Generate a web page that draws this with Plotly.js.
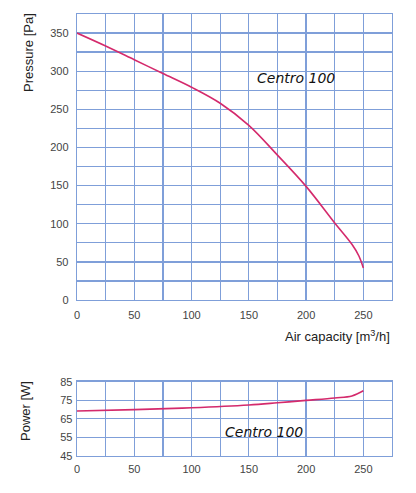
<!DOCTYPE html>
<html><head><meta charset="utf-8">
<script src="https://cdn.plot.ly/plotly-3.0.1.min.js"></script>
<style>html,body{margin:0;padding:0;background:#fff}#c{width:416px;height:493px}</style>
</head><body><div id="c"></div>
<script>
var flowP = [0, 25, 50, 75, 100, 125, 150, 175, 200, 225, 240, 246, 250];
var pressure = [350, 333, 315, 297, 279, 258, 229, 190, 149, 101, 73, 58, 42];
var flowW = [0, 50, 100, 150, 175, 200, 225, 240, 250];
var power = [69.2, 69.9, 70.9, 72.4, 73.6, 74.9, 76.2, 77.3, 80.1];
var xTicks = [0, 50, 100, 150, 200, 250];
var pTicks = [0, 50, 100, 150, 200, 250, 300, 350];
var wTicks = [45, 55, 65, 75, 85];
var modelName = "Centro 100";

var W = 416, H = 493;
var grid = "#7f9fd9";
var curve = "#d42a6c";
var tickFont = {family: "Liberation Sans, Arial, sans-serif", size: 11, color: "#444"};
var labFont = {family: "Liberation Sans, Arial, sans-serif", size: 13, color: "#222"};
var dx = [77 / W, 392 / W];

// grid every 25, labels only at listed ticks
function gridTicks(lo, hi, step, labeled) {
  var vals = [], txt = [];
  for (var v = lo; v <= hi + 1e-9; v += step) {
    vals.push(v);
    txt.push(labeled.indexOf(v) >= 0 ? String(v) : "");
  }
  return {vals: vals, txt: txt};
}
var gx = gridTicks(0, 275, 25, xTicks);
var gp = gridTicks(0, 375, 25, pTicks);

var traces = [
  {x: flowP, y: pressure, xaxis: "x", yaxis: "y", mode: "lines",
   line: {color: curve, width: 1.6, shape: "spline", smoothing: 1}, hoverinfo: "skip"},
  {x: flowW, y: power, xaxis: "x2", yaxis: "y2", mode: "lines",
   line: {color: curve, width: 1.6, shape: "spline", smoothing: 1}, hoverinfo: "skip"}
];

function baseAx() {
  return {showgrid: true, gridcolor: grid, gridwidth: 1.3,
    showline: true, linecolor: grid, linewidth: 1.3, mirror: true,
    zeroline: false, ticks: "", tickfont: tickFont, fixedrange: true, tickmode: "array"};
}
var xa = baseAx(); Object.assign(xa, {domain: dx, range: [0, 275], anchor: "y",
  tickvals: gx.vals, ticktext: gx.txt, ticklabelstandoff: 4});
var xa2 = baseAx(); Object.assign(xa2, {domain: dx, range: [0, 275], anchor: "y2",
  tickvals: gx.vals, ticktext: gx.txt, ticklabelstandoff: 3});
var ya = baseAx(); Object.assign(ya, {domain: [1 - 300 / H, 1 - 14 / H], range: [0, 375], anchor: "x",
  tickvals: gp.vals, ticktext: gp.txt, ticklabelstandoff: 5});
var ya2 = baseAx(); Object.assign(ya2, {domain: [1 - 455.7 / H, 1 - 381.7 / H], range: [45, 85], anchor: "x2",
  tickvals: wTicks, ticktext: wTicks.map(String), ticklabelstandoff: 1});

var layout = {
  width: W, height: H, margin: {l: 0, r: 0, t: 0, b: 0},
  paper_bgcolor: "#fff", plot_bgcolor: "#fff", showlegend: false,
  xaxis: xa, xaxis2: xa2, yaxis: ya, yaxis2: ya2,
  annotations: [
    {text: "Pressure [Pa]", xref: "paper", yref: "paper", x: 28 / W, y: 1 - 53 / H,
     textangle: -90, showarrow: false, font: labFont, xanchor: "center", yanchor: "middle"},
    {text: "Air capacity [m<sup>3</sup>/h]", xref: "paper", yref: "paper", x: 392 / W, y: 1 - 336 / H,
     showarrow: false, font: labFont, xanchor: "right", yanchor: "middle"},
    {text: "Power [W]", xref: "paper", yref: "paper", x: 25 / W, y: 1 - 411 / H,
     textangle: -90, showarrow: false, font: labFont, xanchor: "center", yanchor: "middle"},
    {text: "<i>" + modelName + "</i>", xref: "paper", yref: "paper", x: 296 / W, y: 1 - 78 / H,
     showarrow: false, font: {family: "DejaVu Sans, sans-serif", size: 14, color: "#111"}, xanchor: "center", yanchor: "middle"},
    {text: "<i>" + modelName + "</i>", xref: "paper", yref: "paper", x: 264 / W, y: 1 - 432 / H,
     showarrow: false, font: {family: "DejaVu Sans, sans-serif", size: 14, color: "#111"}, xanchor: "center", yanchor: "middle"}
  ]
};

Plotly.newPlot("c", traces, layout, {staticPlot: true, displayModeBar: false});
</script></body></html>
